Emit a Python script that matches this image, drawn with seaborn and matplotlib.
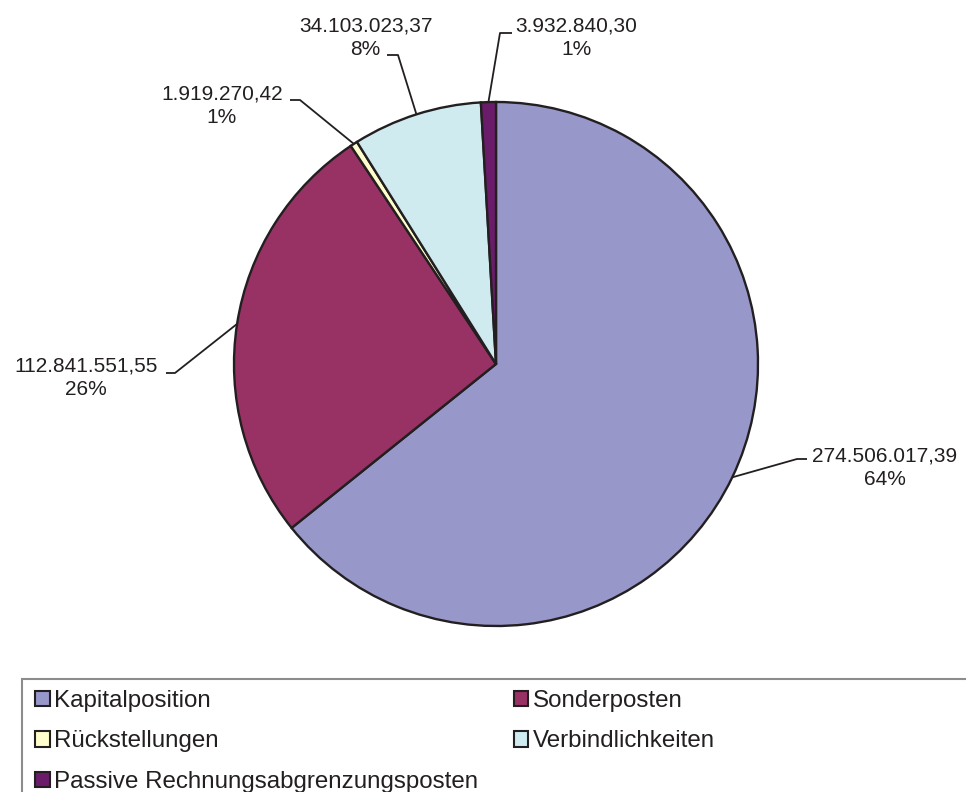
import matplotlib
matplotlib.use("Agg")
import matplotlib.pyplot as plt
from matplotlib.patches import Patch, Rectangle
import numpy as np
import seaborn as sns

# Passiva breakdown
categories = ["Kapitalposition", "Sonderposten", "Rückstellungen",
              "Verbindlichkeiten", "Passive Rechnungsabgrenzungsposten"]
values = [274506017.39, 112841551.55, 1919270.42, 34103023.37, 3932840.30]
value_labels = ["274.506.017,39", "112.841.551,55", "1.919.270,42",
                "34.103.023,37", "3.932.840,30"]
pct_labels = ["64%", "26%", "1%", "8%", "1%"]
colors_hex = ["#9797CA", "#983264", "#FEFDCB", "#D0EBF0", "#6A1C6A"]

sns.set_theme(style="white")
plt.rcParams["font.family"] = ["Liberation Sans", "DejaVu Sans"]

W, H = 966, 792
fig = plt.figure(figsize=(W / 100, H / 100), dpi=100)
ax = fig.add_axes([0, 0, 1, 1])


def py(y):
    """Pixel row (top-down) to axes y."""
    return H - y


center = (496, py(364))
radius = 262
edge = "#231F20"
palette = sns.color_palette(colors_hex)

wedges, _ = ax.pie(values, colors=palette, startangle=90, counterclock=False,
                   center=center, radius=radius, frame=True,
                   wedgeprops=dict(edgecolor=edge, linewidth=1.7))
ax.set_xlim(0, W)
ax.set_ylim(0, H)
ax.set_aspect("equal")
ax.axis("off")

# label block centre (x, y) and leader elbow / end points, in pixel rows
label_pos = [(885, 467.5), (86, 378), (222, 106), (365.5, 38), (576.5, 38)]
elbows = [((797, 459), (807, 459)),
          ((175, 373), (166, 373)),
          ((300, 100), (290, 100)),
          ((398, 55), (387, 55)),
          ((500, 33), (512, 33))]

for w, vl, p, (lx, ly), (e1, e2) in zip(wedges, value_labels, pct_labels,
                                         label_pos, elbows):
    mid = np.deg2rad((w.theta1 + w.theta2) / 2)
    sx = center[0] + radius * np.cos(mid)
    sy = center[1] + radius * np.sin(mid)
    ax.plot([sx, e1[0], e2[0]], [sy, py(e1[1]), py(e2[1])],
            color=edge, linewidth=1.3, solid_capstyle="butt", zorder=3)
    ax.text(lx, py(ly), f"{vl}\n{p}", ha="center", va="center",
            fontsize=15, color="#231F20", linespacing=1.32)

# legend frame
ax.add_patch(Rectangle((22, -20), 1000, py(679) + 20, fill=False,
                       edgecolor="#8C8C8C", linewidth=1.5, zorder=1))

handles = [Patch(facecolor=c, edgecolor=edge, linewidth=1.5) for c in palette]
order = [0, 2, 4, 1, 3]
ax.legend([handles[i] for i in order], [categories[i] for i in order],
          ncol=2, loc="upper left", bbox_to_anchor=(35, py(690)),
          bbox_transform=ax.transData, frameon=False, fontsize=17.4,
          handlelength=0.6, handleheight=0.6, handletextpad=0.17,
          labelspacing=0.76, columnspacing=1.5, borderpad=0,
          borderaxespad=0, labelcolor="#231F20")

fig.savefig("out.png", dpi=100)
